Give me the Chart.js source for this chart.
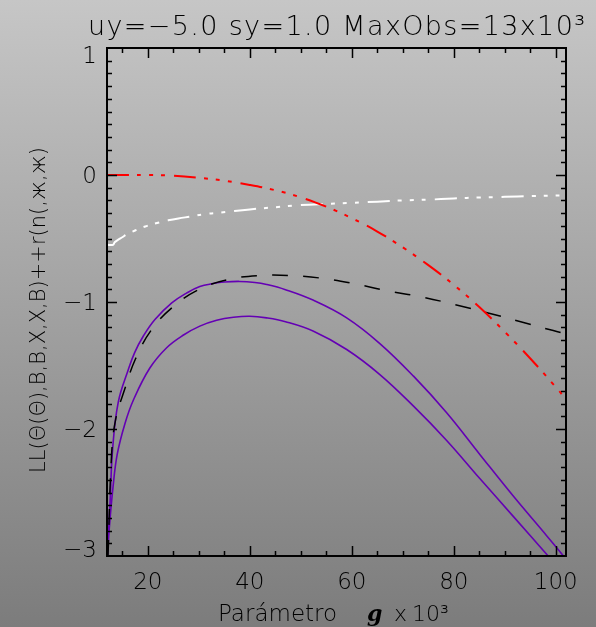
<!DOCTYPE html>
<html>
<head>
<meta charset="utf-8">
<script src="https://cdn.jsdelivr.net/npm/chart.js@4/dist/chart.umd.min.js"></script>
<style>
  html, body { margin: 0; padding: 0; background: #999; }
  canvas { display: block; }
</style>
</head>
<body>
<canvas id="chart" width="596" height="627"></canvas>
<script>
// Log-likelihood curves against the parameter g (x 10^3)
const upperG  = [12.0, 12.3, 12.6, 13.1, 14.2, 16.2, 17.4, 19.1, 21.4, 24.7, 27.6, 30.2, 32.8, 35.0, 38.0, 41.0, 43.3, 47.0, 52.5, 59.0, 65.5, 72.1, 78.6, 85.1, 91.7, 98.2, 101.5];
const upperLL = [-3.0, -2.8, -2.58, -2.16, -1.79, -1.53, -1.40, -1.27, -1.138, -1.007, -0.93, -0.878, -0.855, -0.843, -0.838, -0.846, -0.862, -0.903, -0.987, -1.125, -1.327, -1.584, -1.872, -2.2, -2.53, -2.84, -3.0];

const lowerG  = [12.1, 12.45, 13.2, 14.0, 15.5, 17.2, 20.4, 23.7, 27.0, 30.2, 33.5, 36.8, 40.0, 43.3, 47.0, 52.5, 59.0, 65.5, 72.1, 78.6, 85.1, 91.7, 98.5];
const lowerLL = [-3.0, -2.78, -2.45, -2.2, -1.96, -1.77, -1.52, -1.36, -1.26, -1.19, -1.144, -1.12, -1.112, -1.125, -1.155, -1.23, -1.374, -1.571, -1.82, -2.09, -2.39, -2.69, -3.0];

const dashG  = [12.2, 12.9, 13.7, 15.5, 17.6, 20.7, 24.9, 30.2, 36.2, 42.4, 48.0, 55.1, 61.3, 67.5, 73.7, 80.2, 87.1, 93.3, 99.5, 102.0];
const dashLL = [-3.0, -2.2, -1.925, -1.683, -1.447, -1.22, -1.04, -0.898, -0.82, -0.79, -0.792, -0.818, -0.863, -0.916, -0.96, -1.02, -1.09, -1.157, -1.225, -1.25];

const redG  = [12, 20, 25, 30, 35, 40, 45, 50, 55, 60, 65, 70, 75, 80, 85, 90, 95, 100, 102];
const redLL = [0, 0, -0.006, -0.022, -0.045, -0.078, -0.12, -0.176, -0.25, -0.34, -0.445, -0.57, -0.71, -0.865, -1.04, -1.235, -1.445, -1.67, -1.765];

const whiteG  = [12, 13.2, 13.5, 14, 15, 16, 17.5, 19.5, 22, 24, 26, 28.6, 31, 34, 37, 40, 45, 50, 55, 60, 65, 70, 75, 80, 85, 90, 95, 102];
const whiteLL = [-0.549, -0.549, -0.53, -0.515, -0.49, -0.465, -0.437, -0.405, -0.376, -0.357, -0.342, -0.326, -0.309, -0.297, -0.283, -0.271, -0.254, -0.237, -0.227, -0.219, -0.21, -0.2, -0.194, -0.185, -0.177, -0.172, -0.166, -0.16];

const xTickLabels = [20, 40, 60, 80, 100];
const yTickLabels = [1, 0, -1, -2, -3];

const titleText = 'uy=\u22125.0 sy=1.0 MaxObs=13x10\u00B3';
const yTitle = 'LL(\u0398(\u0398),B,B,X,X,B)++r(n(,\u0436,\u0436)';

const FONT = '"DejaVu Sans", "Liberation Sans", sans-serif';

function pts(xs, ys) { return xs.map((x, i) => ({ x: x, y: ys[i] })); }

function line(xs, ys, color, width, dash) {
  return {
    data: pts(xs, ys), showLine: true, borderColor: color, borderWidth: width,
    borderDash: dash, pointRadius: 0, pointHoverRadius: 0,
    tension: 0.4, fill: false
  };
}

const dashDot3 = [22, 8, 4, 8, 4, 8, 4, 9];

// draw text so that it spans a given width by spreading the letters
function fillSpread(ctx, text, cx, y, width) {
  const n = [...text].length;
  const w = ctx.measureText(text).width;
  const extra = (width - w) / (n - 1);
  ctx.letterSpacing = extra + 'px';
  const w2 = ctx.measureText(text).width;
  ctx.textAlign = 'left';
  ctx.fillText(text, cx - (w2 - extra) / 2, y);
  ctx.letterSpacing = '0px';
}

const frame = {
  id: 'frame',
  beforeDraw(chart) {
    const ctx = chart.ctx;
    const g = ctx.createLinearGradient(0, 0, 0, chart.height);
    g.addColorStop(0, '#c6c6c6');
    g.addColorStop(1, '#7c7c7c');
    ctx.save();
    ctx.fillStyle = g;
    ctx.fillRect(0, 0, chart.width, chart.height);
    ctx.restore();
  },
  afterDatasetsDraw(chart) {
    const ctx = chart.ctx;
    const a = chart.chartArea;
    const xs = chart.scales.x, ys = chart.scales.y;
    ctx.save();
    ctx.strokeStyle = '#000';
    ctx.fillStyle = '#000';

    // ticks pointing inward on all four sides
    ctx.lineWidth = 1.5;
    ctx.beginPath();
    for (let v = 15; v <= 100; v += 5) {
      const px = Math.round(xs.getPixelForValue(v)) + 0.5;
      const len = xTickLabels.includes(v) ? 10 : 5;
      ctx.moveTo(px, a.bottom); ctx.lineTo(px, a.bottom - len);
      ctx.moveTo(px, a.top); ctx.lineTo(px, a.top + len);
    }
    for (let k = -29; k <= 9; k++) {
      const v = k / 10;
      const py = Math.round(ys.getPixelForValue(v)) + 0.5;
      const len = (k % 10 === 0) ? 10 : 5;
      ctx.moveTo(a.left, py); ctx.lineTo(a.left + len, py);
      ctx.moveTo(a.right, py); ctx.lineTo(a.right - len, py);
    }
    ctx.stroke();

    // frame
    ctx.lineWidth = 2;
    ctx.strokeRect(a.left, a.top, a.right - a.left, a.bottom - a.top);

    // tick labels
    ctx.font = '200 23px ' + FONT;
    ctx.textAlign = 'center';
    ctx.textBaseline = 'middle';
    xTickLabels.forEach(v => {
      ctx.fillText(String(v), xs.getPixelForValue(v), 583);
    });
    ctx.textAlign = 'right';
    yTickLabels.forEach(v => {
      let py = ys.getPixelForValue(v) + 2;
      py = Math.max(a.top + 9, Math.min(a.bottom - 5, py));
      const s = v < 0 ? '\u2212' + Math.abs(v) : String(v);
      ctx.fillText(s, a.left - 10, py);
    });

    // title
    ctx.font = '200 27px ' + FONT;
    ctx.textBaseline = 'alphabetic';
    fillSpread(ctx, titleText, (a.left + a.right) / 2, 35, 497);

    // x axis title
    ctx.textAlign = 'left';
    ctx.font = '200 23px ' + FONT;
    ctx.fillText('Par\u00E1metro', 218, 621);
    ctx.font = 'italic bold 22px "DejaVu Serif", serif';
    ctx.fillText('g', 367, 621);
    ctx.font = '200 22px ' + FONT;
    ctx.fillText('x', 394, 621);
    ctx.fillText('10\u00B3', 412, 621);

    // y axis title
    ctx.translate(40, 310);
    ctx.rotate(-Math.PI / 2);
    ctx.textAlign = 'center';
    ctx.textBaseline = 'middle';
    ctx.font = '200 21px ' + FONT;
    ctx.fillText(yTitle, 0, 0);
    ctx.restore();
  }
};

new Chart(document.getElementById('chart'), {
  type: 'scatter',
  data: {
    datasets: [
      line(redG, redLL, '#ff0000', 2, dashDot3),
      line(whiteG, whiteLL, '#ffffff', 2, dashDot3),
      line(dashG, dashLL, '#000000', 1.5, [16, 15]),
      line(upperG, upperLL, '#6400b4', 1.6, []),
      line(lowerG, lowerLL, '#6400b4', 1.6, [])
    ]
  },
  options: {
    responsive: false,
    animation: false,
    devicePixelRatio: 1,
    layout: { padding: { left: 107, top: 48, right: 30, bottom: 71 } },
    plugins: { legend: { display: false }, tooltip: { enabled: false }, title: { display: false } },
    scales: {
      x: { type: 'linear', min: 12, max: 102, display: false },
      y: { type: 'linear', min: -3, max: 1, display: false }
    }
  },
  plugins: [frame]
});
</script>
</body>
</html>
